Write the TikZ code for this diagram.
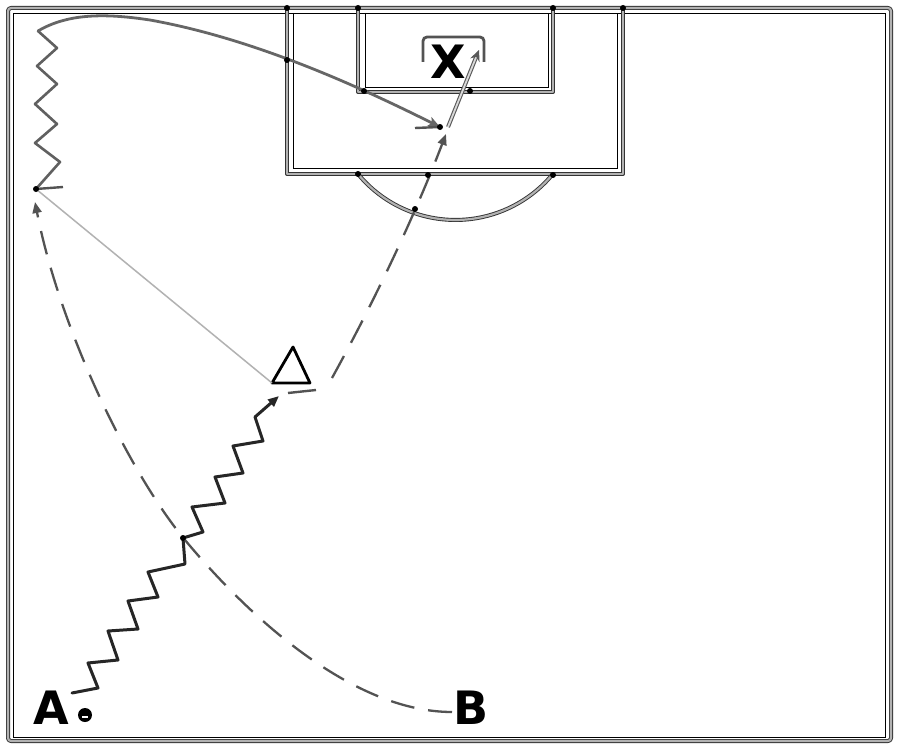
\documentclass[tikz,border=0pt]{standalone}
\usepackage{fontspec}
\setmainfont{DejaVu Sans}
\usetikzlibrary{arrows.meta}
\tikzset{
  fieldline/.style={draw=black!80, double=gray!60, double distance=2.2pt, line width=0.9pt, line join=round, line cap=round},
  innerline/.style={draw=black, line width=0.7pt},
  dribble/.style={draw=black!85, line width=3pt, line join=round, line cap=round},
  dribbletop/.style={draw=gray!75!black, line width=2.6pt, line join=round, line cap=round},
  passline/.style={draw=gray!80!black, line width=2.8pt, line cap=round},
  thinpass/.style={draw=gray!60, line width=1.5pt},
  runline/.style={draw=gray!65!black, line width=2.3pt, dash pattern=on 24pt off 14pt},
  shotline/.style={draw=gray!70!black, double=gray!30, double distance=1.8pt, line width=1.1pt},
  stub/.style={draw=gray!65!black, line width=2.4pt},
  tipbig/.style={-{Triangle[length=11pt,width=9pt]}},
  knot/.style={circle, fill=black, inner sep=0pt, minimum size=6pt},
  bigletter/.style={font=\bfseries\fontsize{46}{46}\selectfont, inner sep=0pt, text=black}
}
\begin{document}
\begin{tikzpicture}[x=1pt,y=-1pt]
\useasboundingbox (0,0) rectangle (900,752);
\fill[white] (0,0) rectangle (900,752);

% field
\draw[fieldline, rounded corners=3pt] (8,8) rectangle (891,741);
\draw[innerline] (13,13) rectangle (885,737);
% penalty area
\draw[fieldline] (287,8) -- (287,174) -- (623,174) -- (623,8);
\draw[innerline] (293,13) -- (293,168) -- (617,168) -- (617,13);
% goal area
\draw[fieldline] (358,8) -- (358,92) -- (553,92) -- (553,8);
\draw[innerline] (365,13) -- (365,87) -- (548,87) -- (548,13);
% arc
\draw[fieldline] (358,174) arc[start angle=140.5, end angle=39.5, radius=126.3];
% goal
\draw[draw=gray!65!black, line width=2.8pt, rounded corners=4pt] (423,62) -- (423,37) -- (484,37) -- (484,62);

% named points
\node[bigletter] (A) at (51,708) {A};
\node[bigletter] (B) at (471,708) {B};
\node[bigletter] (X) at (448,62) {X};
\node[circle, fill=black, inner sep=0pt, minimum size=14pt] (ball) at (85,715) {};
\draw[white, line width=1.2pt] (82,717) -- (88,717);

\coordinate (tA) at (293,347);
\coordinate (tB) at (310,383);
\coordinate (tC) at (272,383);
\draw[draw=black, line width=2.8pt, line join=round] (tA) -- (tB) -- (tC) -- cycle;

\coordinate (Astart) at (72,693);
\coordinate (T) at (279,396);
\coordinate (P1) at (36,189);
\coordinate (Q) at (38,31);
\coordinate (R) at (440,127);
\coordinate (Sh) at (448,127);
\coordinate (G) at (479,50);
\coordinate (Bend) at (452,712);
\coordinate (Dtop) at (35,202);
\coordinate (Rs) at (332,378);
\coordinate (Re) at (446,134);

% dribble A -> triangle
\draw[dribble, tipbig] (Astart) -- (98,688) -- (88,663) -- (118,660) -- (108,631) -- (138,629)
  -- (128,601) -- (158,597) -- (148,572) -- (185,564) -- (183,538) -- (203,532)
  -- (192,507) -- (225,503) -- (215,477) -- (243,473) -- (233,446) -- (263,441)
  -- (255,417) -- (T);

% dashed run B -> top left
\draw[runline, tipbig] (Bend) .. controls (360,712) and (260,630) .. (185,540)
  .. controls (130,474) and (60,330) .. (Dtop);

% pass triangle -> top left
\draw[thinpass] (tC) -- (P1);

% dribble up and long pass
\draw[dribbletop] (P1) -- (60,162) -- (35,143) -- (57,124) -- (35,104) -- (57,84)
  -- (37,66) -- (57,48) -- (Q);
\draw[passline, -{Stealth[length=12pt,width=10pt,inset=3pt]}] (Q) .. controls (70,12) and (110,14) .. (150,20)
  .. controls (250,38) and (350,82) .. (R);

% run from triangle into box
\draw[runline, dash pattern=on 25pt off 15pt, tipbig] (Rs) .. controls (375,300) and (415,215) .. (Re);

% shot
\draw[shotline, -{Stealth[length=11pt,width=10pt]}] (Sh) -- (G);

% stubs
\draw[stub] (P1) -- (63,187);
\draw[stub] (288,393) -- (316,390);
\draw[stub] (415,128) -- (R);

% knots
\foreach \p in {(287,8),(358,8),(553,8),(623,8),(287,60),(364,91),(470,91),(428,175),(358,174),(553,175),(415,209),(183,538),(36,189),(440,127)}
  \node[knot] at \p {};
\end{tikzpicture}
\end{document}
